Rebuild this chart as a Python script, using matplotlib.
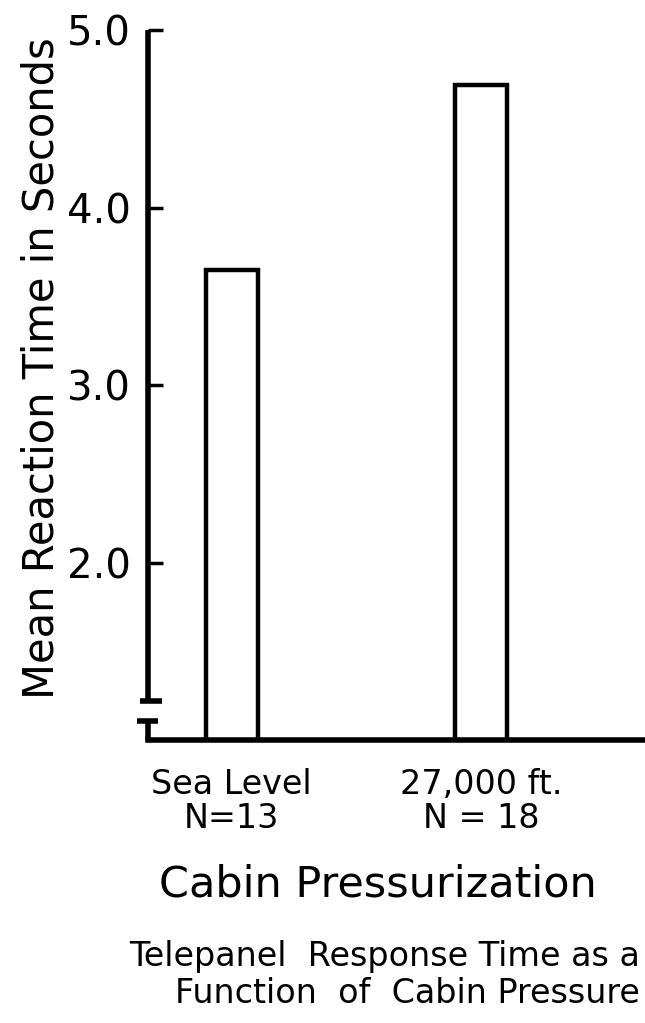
import matplotlib.pyplot as plt

categories = ["Sea Level\nN=13", "27,000 ft.\nN = 18"]
mean_rt = [3.65, 4.69]
y_ticks = [2.0, 3.0, 4.0, 5.0]
y_tick_labels = ["2.0", "3.0", "4.0", "5.0"]

plt.rcParams['font.family'] = ['DejaVu Sans']

fig = plt.figure(figsize=(6.45, 10.23), dpi=100)
ax = fig.add_axes([0.229, 0.2766, 0.771, 0.694])

x = list(range(len(categories)))
ax.bar(x, mean_rt, width=0.21, bottom=0, facecolor='white',
       edgecolor='black', linewidth=3.2, zorder=3)

ax.set_xlim(-0.337, 1.659)
ax.set_ylim(1.0, 5.0)

ax.spines['top'].set_visible(False)
ax.spines['right'].set_visible(False)
ax.spines['left'].set_visible(False)
ax.spines['bottom'].set_linewidth(4)
ax.spines['bottom'].set_zorder(4)

# broken y axis drawn by hand
tr = ax.get_yaxis_transform()
kw = dict(color='black', lw=4, transform=tr, clip_on=False, zorder=4,
          solid_capstyle='butt')
ax.plot([0, 0], [1.22, 5.0], **kw)
ax.plot([-0.016, 0.028], [1.22, 1.22], **kw)
ax.plot([0, 0], [1.0, 1.107], **kw)
ax.plot([-0.022, 0.02], [1.107, 1.107], **kw)

ax.set_yticks(y_ticks)
ax.set_yticklabels(y_tick_labels, fontsize=29)
ax.tick_params(axis='y', direction='in', length=11, width=2.5, pad=12)

ax.set_xticks(x)
ax.set_xticklabels(categories, fontsize=24, linespacing=1.05)
ax.tick_params(axis='x', length=0, pad=20)

fig.text(0.065, 0.64, "Mean Reaction Time in Seconds", rotation=90,
         fontsize=30, ha='center', va='center')
fig.text(0.586, 0.135, "Cabin Pressurization", fontsize=31,
         ha='center', va='center')
fig.text(0.992, 0.047, "Telepanel  Response Time as a\nFunction  of  Cabin Pressure",
         fontsize=24, ha='right', va='center', multialignment='right',
         linespacing=1.15)

fig.savefig("out.png", dpi=100)
